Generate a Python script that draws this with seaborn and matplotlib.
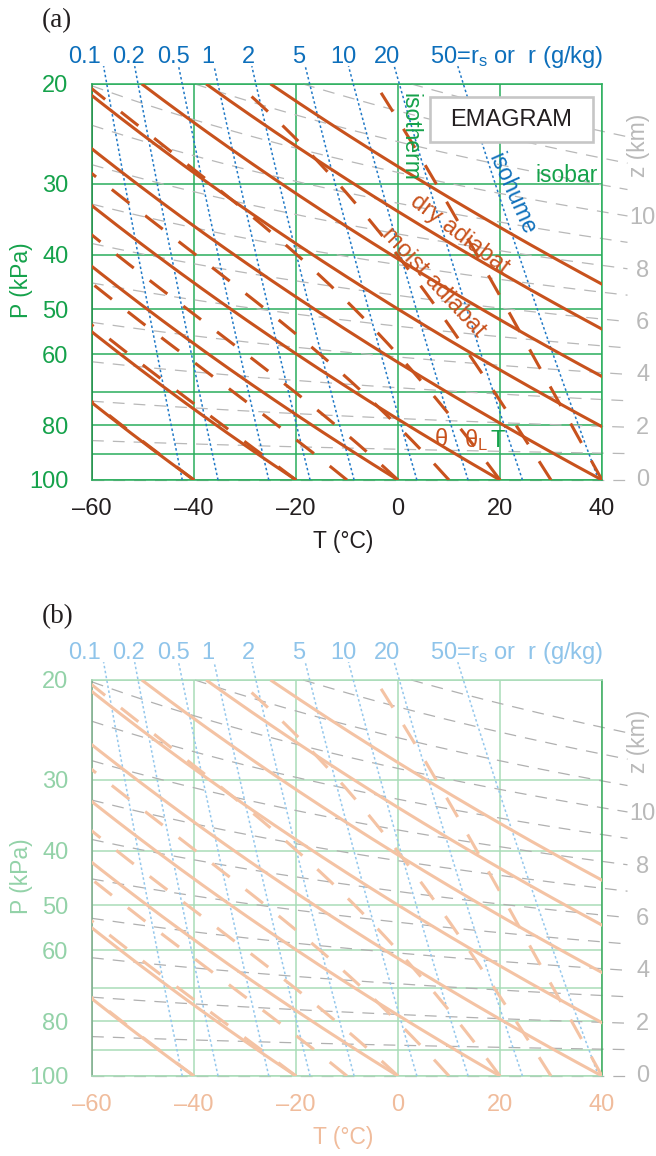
"""
Emagram, two panels: (a) full colour with annotations, (b) faded copy.
Lines come from the thermodynamic levels listed below.
"""

import numpy as np
import pandas as pd
import matplotlib
matplotlib.use("Agg")
import matplotlib.pyplot as plt
import seaborn as sns
from matplotlib.patches import Rectangle
from matplotlib.ticker import FixedLocator, NullLocator

# ---- chart values ----
ISOBARS_KPA = [20, 30, 40, 50, 60, 70, 80, 90, 100]
ISOBAR_LABELS = ["20", "30", "40", "50", "60", "", "80", "", "100"]
ISOTHERMS_C = [-60, -40, -20, 0, 20, 40]
ISOTHERM_LABELS = ["–60", "–40", "–20", "0", "20", "40"]
T_MINOR_C = [-55, -50, -45, -35, -30, -25, -15, -10, -5, 5, 10, 15, 25, 30, 35]
DRY_THETA_C = [-40, -20, 0, 20, 40, 60, 80, 100, 120]
MOIST_THETAW_C = [-40, -20, -10, 0, 10, 20, 30, 40]
ISOHUME_GKG = [0.1, 0.2, 0.5, 1, 2, 5, 10, 20, 50]
ISOHUME_LABELS = ["0.1", "0.2", "0.5", "1", "2", "5", "10", "20",
                  r"50=r$_\mathrm{s}$ or  r (g/kg)"]
HEIGHTS_KM = [0, 1, 2, 3, 4, 5, 6, 7, 8, 9, 10, 11, 12, 13]
HEIGHT_LABELS_KM = [0, 2, 4, 6, 8, 10]

# label anchors (temperature, degC) for the mixing-ratio labels above the plot
ISOHUME_LABEL_T = [-61.4, -52.8, -44.0, -37.3, -29.3, -19.4, -10.7, -2.2, 6.3]

# ---- physics constants (Stull) ----
RD, CP, LV, EPS, G = 287.04, 1004.0, 2.5e6, 0.622, 9.8
P_TOP_ISOHUME = 18.6
T_END_HEIGHT = 45.0
T_HEIGHT_LABEL = 48.0

COLORS = {
    "a": dict(orange="#c8521d", grid="#2aae5c", spine_l="#1b8c44", spine_r="#2aae5c",
              ytxt="#15a24b", blue="#1f78c6", btxt="#0d6fbb", xtxt="#231f20",
              gray="#b8b8b8", ztxt="#b9b9b9"),
    "b": dict(orange="#f4c3a4", grid="#a9dcb8", spine_l="#79a888", spine_r="#35a95a",
              ytxt="#93d2a8", blue="#94c7ec", btxt="#8fc4ea", xtxt="#f0bc9c",
              gray="#b0b0b0", ztxt="#b9b9b9"),
}


def sat_vap_kpa(tk):
    return 0.6113 * np.exp(5423.0 * (1.0 / 273.15 - 1.0 / tk))


def dry_adiabat(theta_c, p):
    return (theta_c + 273.15) * (p / 100.0) ** (RD / CP) - 273.15


def isohume(r_gkg, p):
    r = r_gkg / 1000.0
    e = r * p / (EPS + r)
    return 1.0 / (1.0 / 273.15 - np.log(e / 0.6113) / 5423.0) - 273.15


def moist_slope(tk, p):
    es = sat_vap_kpa(tk)
    rs = EPS * es / (p - es)
    return (RD * tk + LV * rs) / (CP + LV ** 2 * rs * EPS / (RD * tk ** 2))


def moist_adiabat(thw_c, n=400):
    lnp = np.linspace(np.log(100.0), np.log(20.0), n)
    h = lnp[1] - lnp[0]
    t = np.empty(n)
    t[0] = thw_c + 273.15
    for i in range(n - 1):
        p = np.exp(lnp[i])
        ph = np.exp(lnp[i] + h / 2)
        p1 = np.exp(lnp[i + 1])
        k1 = moist_slope(t[i], p)
        k2 = moist_slope(t[i] + h * k1 / 2, ph)
        k3 = moist_slope(t[i] + h * k2 / 2, ph)
        k4 = moist_slope(t[i] + h * k3, p1)
        t[i + 1] = t[i] + h * (k1 + 2 * k2 + 2 * k3 + k4) / 6
    return t - 273.15, np.exp(lnp)


def height_pressure(z_km, t_c):
    return 100.0 * np.exp(-G * z_km * 1000.0 / (RD * (t_c + 273.15)))


def build_frames():
    p_grid = np.geomspace(100, 20, 200)
    dry = pd.concat([pd.DataFrame({"T": dry_adiabat(th, p_grid), "P": p_grid, "level": th})
                     for th in DRY_THETA_C])
    moist_parts = []
    for thw in MOIST_THETAW_C:
        t, p = moist_adiabat(thw)
        moist_parts.append(pd.DataFrame({"T": t, "P": p, "level": thw}))
    moist = pd.concat(moist_parts)
    p_hum = np.geomspace(100, P_TOP_ISOHUME, 200)
    hum = pd.concat([pd.DataFrame({"T": isohume(r, p_hum), "P": p_hum, "level": r})
                     for r in ISOHUME_GKG])
    z_parts = []
    for z in HEIGHTS_KM:
        # start where the line enters the chart (left edge or the 20 kPa top)
        t_top = G * z * 1000.0 / (RD * np.log(5.0)) - 273.15
        t_start = max(-60.0, t_top)
        t = np.linspace(t_start, T_END_HEIGHT, 200)
        z_parts.append(pd.DataFrame({"T": t, "P": height_pressure(z, t), "level": z}))
    heights = pd.concat(z_parts)
    return dry, moist, hum, heights


def lines(ax, df, **kws):
    sns.lineplot(data=df, x="T", y="P", units="level", estimator=None, sort=False,
                 legend=False, ax=ax, **kws)


def draw_panel(ax, c, letter, annotate):
    dry, moist, hum, heights = build_frames()
    ax.set_yscale("log")

    lines(ax, heights, color=c["gray"], linewidth=0.9, linestyle=(0, (8.5, 6.5)),
          clip_on=False, zorder=2)
    lines(ax, hum, color=c["blue"], linewidth=1.1, linestyle=(0, (1.8, 1.8)),
          clip_on=False, zorder=3)
    lines(ax, dry, color=c["orange"], linewidth=2.2, solid_capstyle="butt", zorder=4)
    lines(ax, moist, color=c["orange"], linewidth=2.2, linestyle=(0, (16, 14.5)),
          dash_capstyle="butt", zorder=4)

    ax.set_xlim(-60, 40)
    ax.set_ylim(100, 20)
    ax.yaxis.set_major_locator(FixedLocator(ISOBARS_KPA))
    ax.yaxis.set_minor_locator(NullLocator())
    ax.set_yticklabels(ISOBAR_LABELS)
    ax.set_xticks(ISOTHERMS_C)
    ax.set_xticklabels(ISOTHERM_LABELS)
    ax.set_xticks(T_MINOR_C, minor=True)
    ax.tick_params(axis="x", which="both", direction="inout", length=15.8, width=1.1,
                   color=c["grid"], labelsize=17, labelcolor=c["xtxt"], pad=5)
    ax.tick_params(axis="y", which="major", direction="out", length=11.5, width=1.1,
                   color=c["grid"], labelsize=17, labelcolor=c["ytxt"], pad=5.5)
    ax.grid(True, which="major", color=c["grid"], linewidth=1.1, zorder=1)
    ax.set_axisbelow(True)
    for side in ["top", "bottom"]:
        ax.spines[side].set_color(c["grid"])
    ax.spines["left"].set_color(c["spine_l"])
    ax.spines["right"].set_color(c["spine_r"])
    for sp in ax.spines.values():
        sp.set_linewidth(1.1)
    ax.set_xlabel("")
    ax.set_ylabel("")

    # mixing-ratio labels along the top
    for t_lab, txt in zip(ISOHUME_LABEL_T, ISOHUME_LABELS):
        ha = "left" if txt.startswith("50") else "center"
        ax.text(t_lab, 1.053, txt, transform=ax.get_xaxis_transform(), ha=ha,
                va="baseline", fontsize=17, color=c["btxt"])

    # height labels on the right
    for z in HEIGHT_LABELS_KM:
        ax.text(T_HEIGHT_LABEL, height_pressure(z, T_HEIGHT_LABEL), str(z), ha="center",
                va="center", fontsize=17, color=c["ztxt"], clip_on=False)
    ax.text(1.072, 0.846, "z (km)", transform=ax.transAxes, rotation=90, ha="center",
            va="center", fontsize=16.5, color=c["ztxt"])

    ax.text(-0.139, 0.505, "P (kPa)", transform=ax.transAxes, rotation=90,
            ha="center", va="center", fontsize=16.5, color=c["ytxt"])
    ax.text(0.492, -0.155, "T (°C)", transform=ax.transAxes, ha="center",
            va="center", fontsize=16.5, color=c["xtxt"] if letter == "(b)" else "#231f20")
    ax.text(-0.098, 1.159, letter, transform=ax.transAxes, ha="left", va="center",
            fontsize=19.5, family=["Liberation Serif", "DejaVu Serif"], color="#231f20")

    if not annotate:
        return
    ax.add_patch(Rectangle((0.6627, 0.8535), 0.3197, 0.1137, transform=ax.transAxes,
                           facecolor="white", edgecolor="#c6c6c6", linewidth=1.9,
                           zorder=6))
    ax.text(0.8225, 0.910, "EMAGRAM", transform=ax.transAxes, ha="center", va="center",
            fontsize=17, color="#231f20", zorder=7)
    ax.text(0.6235, 0.866, "isotherm", transform=ax.transAxes, rotation=-90,
            ha="center", va="center", fontsize=16.5, color=c["ytxt"], zorder=7)
    ax.text(0.8235, 0.722, "isohume", transform=ax.transAxes, rotation=-66,
            ha="center", va="center", fontsize=16.5, color=c["btxt"], zorder=7)
    ax.text(0.931, 0.770, "isobar", transform=ax.transAxes, ha="center", va="center",
            fontsize=16.5, color=c["ytxt"], zorder=7)
    ax.text(0.7196, 0.6187, "dry adiabat", transform=ax.transAxes, rotation=-37,
            ha="center", va="center", fontsize=17, color=c["orange"], zorder=7)
    ax.text(0.6686, 0.500, "moist adiabat", transform=ax.transAxes, rotation=-47,
            ha="center", va="center", fontsize=17, color=c["orange"], zorder=7)
    ax.text(0.6843, 0.101, r"$\mathrm{\theta}$", transform=ax.transAxes, ha="center",
            va="center", fontsize=17, color=c["orange"], zorder=7)
    ax.text(0.7520, 0.101, r"$\mathrm{\theta_L}$", transform=ax.transAxes, ha="center",
            va="center", fontsize=17, color=c["orange"], zorder=7)
    ax.text(0.7961, 0.098, "T", transform=ax.transAxes, ha="center", va="center",
            fontsize=17, color=c["ytxt"], zorder=7)


def main():
    sns.set_theme(style="white")
    plt.rcParams["font.family"] = ["Liberation Sans", "DejaVu Sans"]
    plt.rcParams["mathtext.fontset"] = "custom"
    plt.rcParams["mathtext.rm"] = "Liberation Sans"
    plt.rcParams["mathtext.it"] = "Liberation Sans:italic"
    plt.rcParams["lines.scale_dashes"] = False

    fig = plt.figure(figsize=(6.56, 11.56), dpi=100)
    ax_a = fig.add_axes([92 / 656, (1156 - 480) / 1156, 510 / 656, 396 / 1156])
    ax_b = fig.add_axes([92 / 656, (1156 - 1076) / 1156, 510 / 656, 396 / 1156])

    draw_panel(ax_a, COLORS["a"], "(a)", annotate=True)
    draw_panel(ax_b, COLORS["b"], "(b)", annotate=False)

    fig.savefig("out.png", dpi=100, facecolor="white")


if __name__ == "__main__":
    main()
